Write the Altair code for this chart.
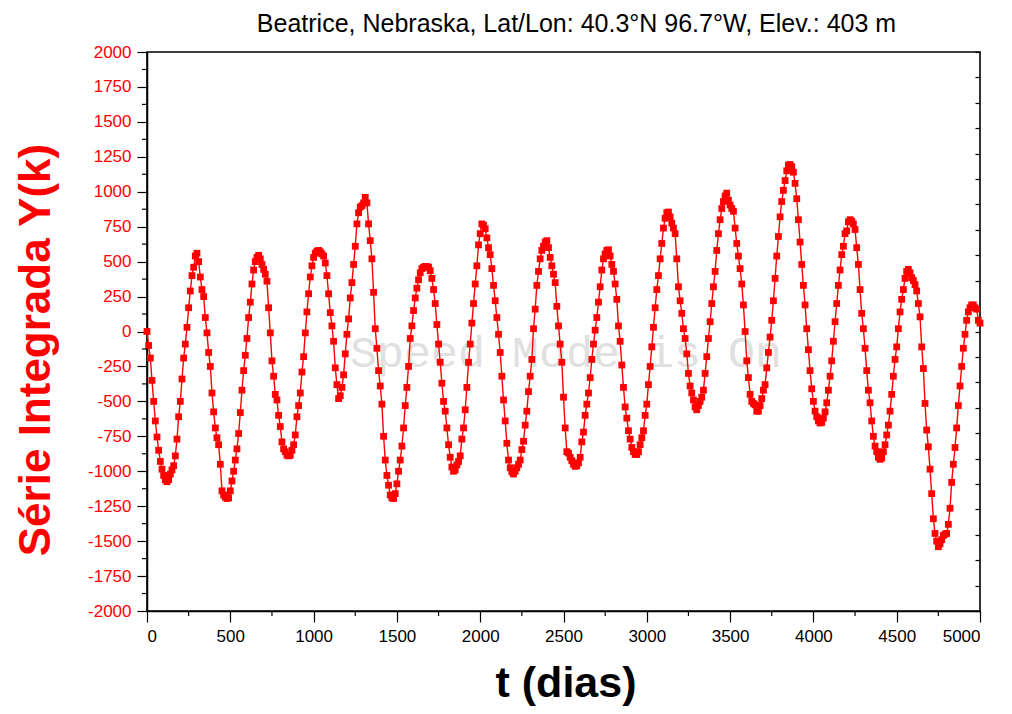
import altair as alt
import pandas as pd

# Integrated series Y(k), one value every 10 days (t = 0 ... 5000)
y_0000 = [0, -100, -190, -350, -500, -640, -755, -850, -930, -985,
          -1030, -1062, -1075, -1060, -1020, -990, -960, -890, -770, -610,
          -500, -340, -190, -90, 30, 170, 290, 400, 460, 540,
          560, 500, 390, 300, 250, 100, -10, -150, -250, -440,
          -575, -690, -760, -810, -950, -1140, -1170, -1185, -1195, -1190]
y_0500 = [-1140, -1070, -1000, -920, -840, -730, -580, -420, -280, -170,
          -50, 100, 210, 340, 440, 500, 530, 545, 520, 480,
          445, 410, 360, 170, -10, -210, -320, -450, -490, -600,
          -680, -790, -840, -860, -885, -890, -885, -850, -810, -740,
          -610, -530, -440, -290, -180, -10, 140, 270, 390, 470]
y_1000 = [530, 560, 575, 580, 570, 555, 540, 490, 400, 270,
          135, 40, -70, -260, -380, -480, -460, -400, -310, -160,
          -20, 90, 240, 350, 480, 610, 770, 850, 890, 900,
          920, 960, 920, 770, 650, 520, 280, 20, -120, -280,
          -390, -520, -750, -920, -1030, -1100, -1170, -1190, -1195, -1160]
y_1500 = [-1090, -1000, -920, -820, -690, -530, -400, -250, -50, 40,
          150, 240, 310, 370, 420, 450, 460, 465, 465, 460,
          435, 380, 300, 200, 50, -90, -220, -370, -500, -570,
          -690, -810, -900, -970, -1000, -990, -955, -930, -890, -770,
          -690, -560, -400, -220, -90, 60, 200, 340, 470, 620]
y_2000 = [700, 770, 760, 735, 670, 600, 550, 450, 330, 220,
          100, -20, -150, -320, -490, -640, -800, -920, -975, -1005,
          -1020, -1000, -975, -950, -920, -845, -785, -670, -570, -430,
          -320, -200, 20, 160, 330, 430, 520, 580, 610, 640,
          650, 600, 530, 470, 410, 350, 180, 40, -90, -220]
y_2500 = [-470, -690, -860, -870, -900, -925, -950, -965, -960, -940,
          -900, -790, -720, -600, -520, -440, -330, -200, -90, 10,
          100, 210, 320, 440, 520, 555, 580, 585, 540, 480,
          430, 340, 230, 40, -70, -240, -400, -540, -620, -710,
          -770, -830, -860, -880, -880, -860, -810, -760, -710, -600]
y_3000 = [-520, -380, -250, -110, 30, 170, 300, 400, 520, 630,
          740, 810, 850, 855, 820, 775, 740, 700, 520, 320,
          220, 130, 20, -50, -160, -300, -390, -440, -490, -540,
          -560, -530, -500, -470, -420, -300, -180, -50, 70, 200,
          320, 430, 580, 700, 800, 880, 930, 970, 990, 940]
y_3500 = [905, 880, 860, 740, 630, 540, 450, 340, 190, 0,
          -210, -330, -450, -500, -515, -525, -570, -570, -530, -480,
          -420, -380, -260, -150, -40, 80, 220, 380, 540, 680,
          820, 930, 1010, 1080, 1150, 1190, 1195, 1180, 1140, 1060,
          950, 800, 640, 480, 330, 190, 20, -130, -280, -410]
y_4000 = [-500, -570, -610, -640, -655, -650, -620, -575, -510, -420,
          -320, -210, -70, 70, 200, 330, 440, 550, 610, 700,
          720, 785, 800, 790, 770, 730, 600, 480, 300, 130,
          20, -120, -280, -420, -510, -640, -750, -820, -860, -900,
          -915, -905, -860, -810, -740, -670, -570, -450, -320, -200]
y_4500 = [-110, 20, 140, 230, 300, 380, 430, 445, 420, 385,
          365, 335, 290, 200, 105, -110, -265, -515, -705, -825,
          -985, -1160, -1340, -1445, -1500, -1540, -1520, -1490, -1460, -1450,
          -1445, -1380, -1265, -1080, -950, -830, -690, -530, -390, -250,
          -120, -20, 80, 140, 170, 190, 190, 170, 160, 80,
          60]

values = y_0000 + y_0500 + y_1000 + y_1500 + y_2000 + y_2500 + y_3000 + y_3500 + y_4000 + y_4500
days = list(range(0, 10 * len(values), 10))

y_major = list(range(-2000, 2001, 250))
y_minor = list(range(-1875, 2000, 250))
x_major = list(range(0, 5001, 500))
x_minor = list(range(250, 5000, 500))
right_ticks = list(range(0, 23))

TITLE = "Beatrice, Nebraska, Lat/Lon: 40.3°N 96.7°W, Elev.: 403 m"
YTITLE = "Série Integrada Y(k)"
XTITLE = "t (dias)"
WATERMARK = "Speed Mode is On"

W, H = 833, 559
RED = "#ff0000"
FONT = "Liberation Sans"

df = pd.DataFrame({"t": days, "y": values})

xscale = alt.Scale(domain=[0, 5000], nice=False, zero=False)
yscale = alt.Scale(domain=[-2000, 2000], nice=False, zero=False)

x_axis = alt.Axis(values=x_major, tickSize=11, tickColor="black", tickWidth=1.2,
                  domainColor="black", domainWidth=1.5, grid=False,
                  labelFont=FONT, labelFontSize=17, labelColor="black", labelPadding=6,
                  labelOverlap=False, labelExpr="'' + datum.value",
                  title=XTITLE, titleFont=FONT, titleFontSize=43, titleFontWeight="bold",
                  titleColor="black", titleX=W / 2 + 2, titleY=72, titleBaseline="middle",
                  titleAlign="center")
y_axis = alt.Axis(values=y_major, tickSize=10, tickColor="black", tickWidth=1.2,
                  domainColor="black", domainWidth=1.5, grid=False,
                  labelFont=FONT, labelFontSize=17, labelColor=RED, labelPadding=6,
                  labelOverlap=False, labelExpr="'' + datum.value",
                  title=YTITLE, titleFont=FONT, titleFontSize=44, titleFontWeight="bold",
                  titleColor=RED, titleX=-111, titleY=H / 2 + 18, titleAngle=-90,
                  titleBaseline="middle", titleAlign="center")

X = alt.X("t:Q", scale=xscale, axis=x_axis)
Y = alt.Y("y:Q", scale=yscale, axis=y_axis)

base = alt.Chart(df)

watermark = alt.Chart(pd.DataFrame({"w": [WATERMARK]})).mark_text(
    font="Liberation Mono", fontSize=45, color="#e0e0e0"
).encode(x=alt.value(419), y=alt.value(301), text="w:N")

line = base.mark_line(color=RED, strokeWidth=1.4).encode(x=X, y=Y)
points = base.mark_square(color=RED, size=46, opacity=1).encode(x=X, y=Y)

ymin = alt.Chart(pd.DataFrame({"y": y_minor})).mark_rule(color="black", strokeWidth=1.2).encode(
    y=Y, x=alt.value(-5), x2=alt.value(0)
)
xmin = alt.Chart(pd.DataFrame({"t": x_minor})).mark_rule(color="black", strokeWidth=1.2).encode(
    x=X, y=alt.value(H), y2=alt.value(H + 5)
)

inner = alt.layer(watermark, line, points, ymin, xmin)

right = alt.Chart(pd.DataFrame({"r": right_ticks})).mark_point(opacity=0).encode(
    y=alt.Y("r:Q", scale=alt.Scale(domain=[0, 22], nice=False, zero=False),
            axis=alt.Axis(orient="right", values=right_ticks, labels=False, domain=False,
                          grid=False, tickSize=5, offset=-5, tickColor="black",
                          tickWidth=1.2, title=None))
)

chart = alt.layer(inner, right).resolve_scale(y="independent").properties(
    width=W, height=H,
    title=alt.TitleParams(TITLE, font=FONT, fontSize=25, fontWeight="normal",
                          color="black", anchor="middle", dx=13, offset=6),
    autosize=alt.AutoSizeParams(type="none"),
    padding={"left": 139, "top": 44, "right": 24, "bottom": 95},
).configure_view(stroke="black", strokeWidth=1.6, strokeOpacity=1).configure_axis(
    labelOverlap=False
)

chart.save("out.html", embed_options={"renderer": "svg", "actions": False})
